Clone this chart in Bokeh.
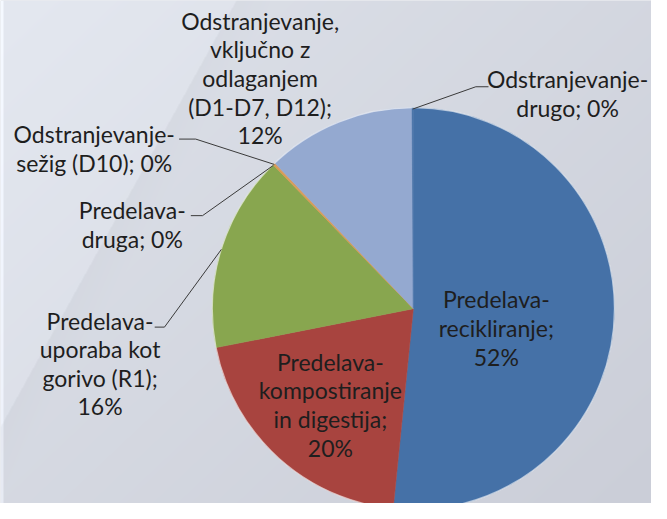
import numpy as np
from bokeh.plotting import figure
from bokeh.models import ColumnDataSource, Range1d
from bokeh.core.properties import value
from bokeh.embed import file_html
from bokeh.resources import INLINE

# ---- data ----
categories = [
    "Predelava-recikliranje",
    "Predelava-kompostiranje in digestija",
    "Predelava-uporaba kot gorivo (R1)",
    "Predelava-druga",
    "Odstranjevanje-sežig (D10)",
    "Odstranjevanje, vključno z odlaganjem (D1-D7, D12)",
    "Odstranjevanje-drugo",
]
shares = [51.6, 20.3, 15.8, 0.1, 0.1, 12.0, 0.1]
label_lines = [
    ["Predelava-", "recikliranje;", "52%"],
    ["Predelava-", "kompostiranje", "in digestija;", "20%"],
    ["Predelava-", "uporaba kot", "gorivo (R1);", "16%"],
    ["Predelava-", "druga; 0%"],
    ["Odstranjevanje-", "sežig (D10); 0%"],
    ["Odstranjevanje,", "vključno z", "odlaganjem", "(D1-D7, D12);", "12%"],
    ["Odstranjevanje-", "drugo; 0%"],
]
colors = ["#4571A7", "#A8443F", "#88A64F", "#D99A55", "#D99A55", "#94A9D0", "#4571A7"]

# ---- layout (reference pixel coordinates, y downward) ----
W, H = 667, 519
PW, PH = 651, 503
CX, CY, R = 423, 318, 206
label_pos = [(508, 338), (338, 417), (102, 374.5), (135, 231), (96, 152.5), (266, 80), (581, 96)]
leader_elbows = {2: [(168, 337), (158, 337)], 3: [(207, 222), (195, 222)],
                 4: [(200, 143), (183, 143)], 6: [(487, 89), (500, 89)]}
LINE_H = 29.5 * PH / H

def fy(Y):
    return H - Y

p = figure(width=PW, height=PH, output_backend="svg", toolbar_location=None,
           x_range=Range1d(0, W), y_range=Range1d(0, H), min_border=0,
           outline_line_color=None)
p.axis.visible = False
p.grid.visible = False
p.background_fill_color = "#D6D9E1"
p.border_fill_color = "#D6D9E1"

# background gradient
xs = (np.arange(PW) + 0.5) * W / PW
ys_data = (np.arange(PH) + 0.5) * H / PH
X, Yd = np.meshgrid(xs, ys_data)
Yr = H - Yd
t = 0.55 * X / W + 0.45 * Yr / H
c1 = np.array([222, 226, 234.0])
c2 = np.array([203, 206, 216.0])
img = c1[None, None, :] * (1 - t[..., None]) + c2[None, None, :] * t[..., None]
xline = 242 - 0.549 * Yr
d = X - xline
img += np.where(d < 0, 6.0, np.where(d < 40, -3.0 * (1 - d / 40), 0.0))[..., None]
img += np.where(X < 3, 18.0, 0.0)[..., None]
img = np.clip(img, 0, 255).astype(np.uint32)
rgba = (255 << 24) | (img[..., 2] << 16) | (img[..., 1] << 8) | img[..., 0]
p.image_rgba(image=[rgba.astype(np.uint32)], x=0, y=0, dw=W, dh=H)

# wedges clockwise from top
total = sum(shares)
cum = np.concatenate([[0], np.cumsum(shares)]) / total
starts = np.pi / 2 - 2 * np.pi * cum[1:]
ends = np.pi / 2 - 2 * np.pi * cum[:-1]
src = ColumnDataSource(dict(start=starts, end=ends, color=colors, name=categories))
p.wedge(x=CX, y=fy(CY), radius=R, start_angle="start", end_angle="end",
        fill_color="color", line_color="color", line_width=0.5, source=src)
p.arc(x=CX, y=fy(CY), radius=R, start_angle=0, end_angle=2 * np.pi,
      line_color="white", line_alpha=0.55, line_width=1.2)

# leader lines
for i, elbow in leader_elbows.items():
    mid = (starts[i] + ends[i]) / 2
    ex, ey = CX + R * np.cos(mid), fy(CY) + R * np.sin(mid)
    lx = [ex] + [e[0] for e in elbow]
    ly = [ey] + [fy(e[1]) for e in elbow]
    p.line(lx, ly, line_color="#3A3A3A", line_width=1)

# labels
tx, ty, toff, tt = [], [], [], []
for (lx, lyr), lines in zip(label_pos, label_lines):
    n = len(lines)
    for k, s in enumerate(lines):
        tx.append(lx)
        ty.append(fy(lyr))
        toff.append((k - (n - 1) / 2) * LINE_H)
        tt.append(s)
p.text(x=tx, y=ty, text=tt, y_offset=toff, text_align="center", text_baseline="middle",
       text_font=value("Lato"), text_font_size="23px", text_color="#1E1E1E")

open("out.html", "w").write(file_html(p, INLINE))
